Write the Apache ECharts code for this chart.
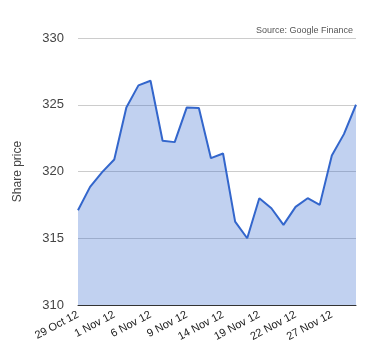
<!DOCTYPE html>
<html>
<head>
<meta charset="utf-8">
<script src="https://cdn.jsdelivr.net/npm/echarts@6/dist/echarts.min.js"></script>
<style>html,body{margin:0;padding:0;background:#fff}#c{width:380px;height:360px}</style>
</head>
<body>
<div id="c"></div>
<script>
var dates = ['29 Oct 12','30 Oct 12','31 Oct 12','1 Nov 12','2 Nov 12','5 Nov 12','6 Nov 12','7 Nov 12','8 Nov 12','9 Nov 12','12 Nov 12','13 Nov 12','14 Nov 12','15 Nov 12','16 Nov 12','19 Nov 12','20 Nov 12','21 Nov 12','22 Nov 12','23 Nov 12','26 Nov 12','27 Nov 12','28 Nov 12','29 Nov 12'];
var prices = [317.1,318.85,319.95,320.9,324.8,326.45,326.8,322.3,322.2,324.8,324.75,321.0,321.35,316.25,315.0,318.0,317.25,316.0,317.35,318.0,317.5,321.2,322.8,325.0];
var yTicks = [310,315,320,325,330];
var chart = echarts.init(document.getElementById('c'));
chart.setOption({
  animation: false,
  backgroundColor: '#fff',
  title: {
    text: 'Source: Google Finance',
    right: 22, top: 21,
    textStyle: {fontSize: 9, fontWeight: 'normal', color: '#555', fontFamily: 'Arial, Liberation Sans, sans-serif'}
  },
  grid: {left: 78, right: 24, top: 38, bottom: 55},
  xAxis: {
    type: 'category',
    data: dates,
    boundaryGap: false,
    axisLine: {lineStyle: {color: '#333', width: 1}},
    axisTick: {show: false},
    axisLabel: {interval: 2, rotate: 28, margin: 9, fontSize: 11, color: '#222', fontFamily: 'Arial, Liberation Sans, sans-serif'}
  },
  yAxis: {
    type: 'value',
    min: yTicks[0], max: yTicks[yTicks.length-1], interval: 5,
    name: 'Share price',
    nameLocation: 'middle',
    nameGap: 54,
    nameTextStyle: {fontSize: 12, color: '#444', fontFamily: 'Arial, Liberation Sans, sans-serif'},
    axisLine: {show: false},
    axisTick: {show: false},
    splitLine: {lineStyle: {color: '#ccc', width: 1}},
    axisLabel: {margin: 14, fontSize: 13, color: '#444', fontFamily: 'Arial, Liberation Sans, sans-serif'}
  },
  series: [{
    type: 'line',
    data: prices,
    symbol: 'none',
    lineStyle: {color: '#3366cc', width: 2},
    areaStyle: {color: '#3366cc', opacity: 0.3}
  }]
});
</script>
</body>
</html>
